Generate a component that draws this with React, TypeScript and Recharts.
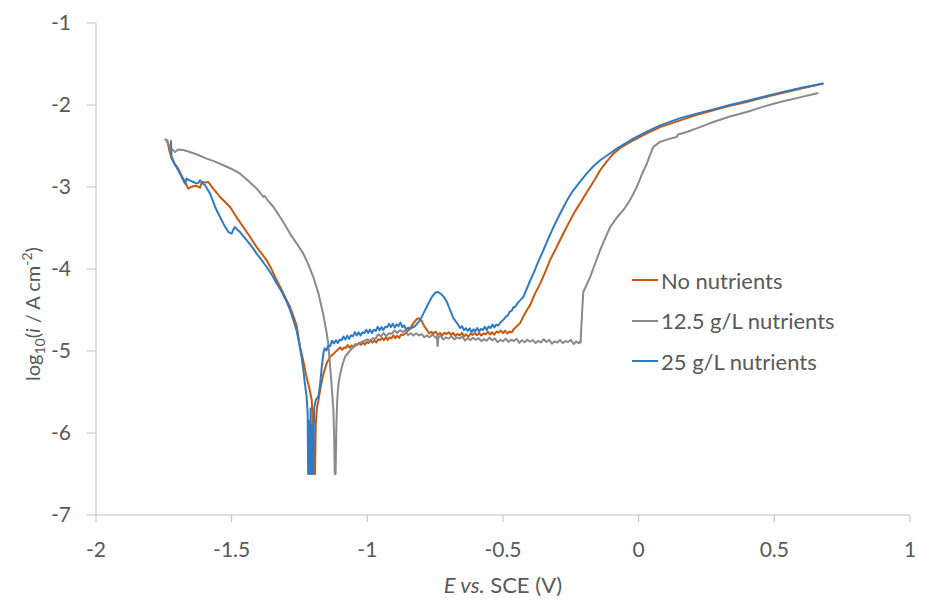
import React from 'react';
import { LineChart, Line, XAxis, YAxis } from 'recharts';

type P = [number, number];

const xTicks = [-2, -1.5, -1, -0.5, 0, 0.5, 1];
const yTicks = [-7, -6, -5, -4, -3, -2, -1];

const seriesNames = ['No nutrients', '12.5 g/L nutrients', '25 g/L nutrients'];
const seriesColors = ['#C9580F', '#8A8A8A', '#2E7BC4'];

const noNutrients: P[] = [
  [-1.738, -2.42], [-1.733, -2.5], [-1.73, -2.55], [-1.721, -2.654], [-1.709, -2.72], [-1.697, -2.776],
  [-1.685, -2.86], [-1.672, -2.939], [-1.66, -3.02], [-1.65, -3.0], [-1.641, -2.991], [-1.63, -2.985],
  [-1.617, -3.008], [-1.61, -2.939], [-1.598, -2.945], [-1.586, -2.939], [-1.577, -2.98], [-1.568, -3.02],
  [-1.555, -3.07], [-1.543, -3.122], [-1.525, -3.18], [-1.506, -3.244], [-1.482, -3.37], [-1.457, -3.488],
  [-1.432, -3.61], [-1.408, -3.732], [-1.39, -3.81], [-1.371, -3.894], [-1.352, -4.01], [-1.334, -4.138],
  [-1.315, -4.26], [-1.297, -4.382], [-1.285, -4.46], [-1.27, -4.6], [-1.26, -4.7], [-1.248, -4.95],
  [-1.236, -5.12], [-1.224, -5.32], [-1.212, -5.48], [-1.205, -5.6], [-1.2, -5.9], [-1.196, -6.5],
  [-1.193, -6.5], [-1.19, -5.9], [-1.186, -5.7], [-1.18, -5.6], [-1.171, -5.42], [-1.162, -5.28],
  [-1.15, -5.15], [-1.137, -5.07], [-1.12, -5.02],
  [-1.1, -4.955], [-1.093, -4.985], [-1.086, -4.955], [-1.079, -4.964], [-1.072, -4.927], [-1.065, -4.961],
  [-1.058, -4.931], [-1.051, -4.957], [-1.044, -4.916], [-1.037, -4.927], [-1.03, -4.899], [-1.023, -4.925],
  [-1.016, -4.892], [-1.009, -4.922], [-1.002, -4.892], [-0.995, -4.902], [-0.988, -4.865], [-0.981, -4.899],
  [-0.974, -4.87], [-0.967, -4.897], [-0.96, -4.856], [-0.953, -4.868], [-0.946, -4.84], [-0.939, -4.867],
  [-0.932, -4.835], [-0.925, -4.865], [-0.918, -4.835], [-0.911, -4.846], [-0.904, -4.809], [-0.897, -4.843],
  [-0.89, -4.814], [-0.883, -4.841], [-0.876, -4.798], [-0.868, -4.804], [-0.858, -4.78],
  [-0.843, -4.73], [-0.83, -4.66], [-0.818, -4.61], [-0.81, -4.6], [-0.8, -4.63], [-0.79, -4.7],
  [-0.78, -4.745], [-0.772, -4.786], [-0.764, -4.767], [-0.756, -4.788], [-0.748, -4.763], [-0.74, -4.805],
  [-0.732, -4.78], [-0.724, -4.813], [-0.716, -4.777], [-0.708, -4.794], [-0.7, -4.771], [-0.692, -4.804],
  [-0.684, -4.778], [-0.676, -4.815], [-0.668, -4.792], [-0.66, -4.809], [-0.652, -4.779], [-0.644, -4.82],
  [-0.636, -4.797], [-0.628, -4.827], [-0.62, -4.79], [-0.612, -4.804], [-0.604, -4.779], [-0.596, -4.809],
  [-0.588, -4.779], [-0.58, -4.812], [-0.572, -4.785], [-0.564, -4.797], [-0.556, -4.763], [-0.548, -4.799],
  [-0.54, -4.772], [-0.532, -4.801], [-0.524, -4.762], [-0.516, -4.776], [-0.508, -4.751], [-0.5, -4.782],
  [-0.492, -4.753], [-0.484, -4.787], [-0.476, -4.761], [-0.468, -4.775], [-0.462, -4.74],
  [-0.45, -4.7], [-0.437, -4.66], [-0.425, -4.58], [-0.412, -4.5], [-0.4, -4.44], [-0.382, -4.3],
  [-0.363, -4.178], [-0.345, -4.04], [-0.327, -3.894], [-0.308, -3.77], [-0.29, -3.65], [-0.272, -3.53],
  [-0.253, -3.41], [-0.235, -3.3], [-0.216, -3.2], [-0.198, -3.1], [-0.179, -3.0], [-0.16, -2.9],
  [-0.142, -2.796], [-0.118, -2.69], [-0.093, -2.593], [-0.062, -2.51], [-0.02, -2.43], [0.03, -2.345],
  [0.079, -2.27], [0.153, -2.187], [0.214, -2.12], [0.275, -2.065], [0.336, -2.01], [0.398, -1.963],
  [0.46, -1.91], [0.521, -1.861], [0.6, -1.8], [0.681, -1.739],
];

const nutrients125: P[] = [
  [-1.746, -2.41], [-1.738, -2.45], [-1.728, -2.5], [-1.72, -2.54], [-1.709, -2.573], [-1.7, -2.55],
  [-1.69, -2.544], [-1.672, -2.555], [-1.654, -2.573], [-1.623, -2.61], [-1.592, -2.654], [-1.561, -2.69],
  [-1.531, -2.735], [-1.5, -2.78], [-1.469, -2.837], [-1.44, -2.92], [-1.408, -3.02], [-1.395, -3.07],
  [-1.383, -3.122], [-1.378, -3.11], [-1.37, -3.15], [-1.346, -3.244], [-1.315, -3.4], [-1.285, -3.568],
  [-1.26, -3.69], [-1.236, -3.812], [-1.218, -3.94], [-1.199, -4.098], [-1.18, -4.3], [-1.162, -4.56],
  [-1.15, -4.78], [-1.144, -4.91], [-1.138, -5.15], [-1.132, -5.4], [-1.125, -5.72], [-1.122, -6.1],
  [-1.12, -6.5], [-1.117, -6.5], [-1.114, -5.9], [-1.111, -5.6], [-1.107, -5.42], [-1.1, -5.276],
  [-1.09, -5.15], [-1.082, -5.07], [-1.065, -5.0], [-1.051, -4.95], [-1.035, -4.92], [-1.02, -4.89],
  [-1.0, -4.858], [-0.99, -4.88], [-0.98, -4.843], [-0.97, -4.85], [-0.96, -4.797], [-0.95, -4.82],
  [-0.94, -4.782], [-0.93, -4.82], [-0.92, -4.783], [-0.91, -4.79], [-0.9, -4.749], [-0.89, -4.781],
  [-0.88, -4.746], [-0.87, -4.768], [-0.86, -4.749], [-0.85, -4.806], [-0.84, -4.784], [-0.83, -4.81],
  [-0.82, -4.784], [-0.81, -4.811], [-0.8, -4.794], [-0.79, -4.832], [-0.78, -4.81], [-0.77, -4.833],
  [-0.76, -4.796], [-0.75, -4.834], [-0.744, -4.82], [-0.741, -4.94], [-0.738, -4.83], [-0.73, -4.814],
  [-0.72, -4.861], [-0.71, -4.833], [-0.7, -4.849], [-0.69, -4.818], [-0.68, -4.859], [-0.67, -4.834],
  [-0.66, -4.848], [-0.65, -4.822], [-0.64, -4.873], [-0.63, -4.844], [-0.62, -4.867], [-0.61, -4.839],
  [-0.6, -4.864], [-0.59, -4.844], [-0.58, -4.88], [-0.57, -4.855], [-0.56, -4.875], [-0.55, -4.836],
  [-0.54, -4.871], [-0.53, -4.846], [-0.52, -4.893], [-0.51, -4.865], [-0.5, -4.88], [-0.49, -4.849],
  [-0.48, -4.889], [-0.47, -4.863], [-0.46, -4.878], [-0.45, -4.851], [-0.44, -4.901], [-0.43, -4.87],
  [-0.42, -4.893], [-0.41, -4.864], [-0.4, -4.887], [-0.39, -4.867], [-0.38, -4.902], [-0.37, -4.876],
  [-0.36, -4.896], [-0.35, -4.856], [-0.34, -4.89], [-0.33, -4.865], [-0.32, -4.911], [-0.31, -4.882],
  [-0.3, -4.897], [-0.29, -4.865], [-0.28, -4.904], [-0.27, -4.878], [-0.26, -4.891], [-0.25, -4.864],
  [-0.24, -4.914], [-0.23, -4.883], [-0.222, -4.906], [-0.216, -4.88], [-0.214, -4.9],
  [-0.212, -4.75], [-0.208, -4.5], [-0.204, -4.28], [-0.19, -4.18], [-0.179, -4.098], [-0.16, -3.93],
  [-0.142, -3.77], [-0.123, -3.62], [-0.105, -3.49], [-0.08, -3.37], [-0.056, -3.28], [-0.032, -3.16],
  [-0.007, -3.0], [0.01, -2.86], [0.03, -2.716], [0.045, -2.58], [0.054, -2.512], [0.079, -2.45],
  [0.116, -2.41], [0.14, -2.39], [0.145, -2.36], [0.177, -2.329], [0.226, -2.27], [0.275, -2.207],
  [0.336, -2.14], [0.398, -2.085], [0.46, -2.02], [0.521, -1.963], [0.59, -1.91], [0.662, -1.853],
];

const nutrients25: P[] = [
  [-1.724, -2.43], [-1.722, -2.62], [-1.712, -2.71], [-1.697, -2.796], [-1.684, -2.88], [-1.672, -2.959],
  [-1.666, -2.898], [-1.655, -2.92], [-1.641, -2.939], [-1.63, -2.955], [-1.623, -2.951], [-1.617, -2.918],
  [-1.608, -2.95], [-1.598, -2.979], [-1.58, -3.08], [-1.57, -3.16], [-1.561, -3.244], [-1.543, -3.366],
  [-1.53, -3.45], [-1.512, -3.549], [-1.5, -3.568], [-1.494, -3.52], [-1.488, -3.488], [-1.479, -3.52],
  [-1.469, -3.549], [-1.444, -3.65], [-1.425, -3.73], [-1.408, -3.812], [-1.39, -3.89], [-1.371, -3.976],
  [-1.352, -4.07], [-1.334, -4.178], [-1.315, -4.28], [-1.297, -4.4], [-1.285, -4.5], [-1.27, -4.65],
  [-1.26, -4.76], [-1.25, -4.93], [-1.242, -5.08], [-1.236, -5.22], [-1.23, -5.4], [-1.224, -5.55],
  [-1.22, -5.75], [-1.218, -6.5], [-1.215, -5.85], [-1.212, -6.5], [-1.209, -5.7], [-1.206, -6.5],
  [-1.203, -5.9], [-1.2, -6.5], [-1.196, -5.7], [-1.19, -5.6], [-1.18, -5.55], [-1.174, -5.4],
  [-1.168, -5.2], [-1.162, -5.03],
  [-1.158, -4.97], [-1.151, -4.993], [-1.144, -4.935], [-1.137, -4.94], [-1.13, -4.874], [-1.123, -4.908],
  [-1.116, -4.868], [-1.109, -4.903], [-1.102, -4.861], [-1.095, -4.868], [-1.088, -4.825], [-1.081, -4.859],
  [-1.074, -4.813], [-1.067, -4.852], [-1.06, -4.808], [-1.053, -4.821], [-1.046, -4.769], [-1.039, -4.81],
  [-1.032, -4.773], [-1.025, -4.811], [-1.018, -4.772], [-1.011, -4.782], [-1.004, -4.742], [-0.997, -4.78],
  [-0.99, -4.738], [-0.983, -4.781], [-0.976, -4.74], [-0.969, -4.755], [-0.962, -4.705], [-0.955, -4.748],
  [-0.948, -4.709], [-0.941, -4.744], [-0.934, -4.704], [-0.927, -4.711], [-0.92, -4.669], [-0.913, -4.708],
  [-0.906, -4.667], [-0.899, -4.713], [-0.892, -4.675], [-0.885, -4.695], [-0.878, -4.653], [-0.871, -4.71],
  [-0.864, -4.688], [-0.857, -4.74], [-0.85, -4.716], [-0.843, -4.73],
  [-0.825, -4.7], [-0.806, -4.626], [-0.79, -4.52], [-0.775, -4.42], [-0.76, -4.33], [-0.75, -4.29],
  [-0.741, -4.28], [-0.73, -4.3], [-0.718, -4.34], [-0.707, -4.4], [-0.695, -4.5], [-0.683, -4.6],
  [-0.665, -4.68], [-0.658, -4.72], [-0.651, -4.698], [-0.644, -4.745], [-0.637, -4.722], [-0.63, -4.755],
  [-0.623, -4.723], [-0.616, -4.773], [-0.609, -4.735], [-0.602, -4.759], [-0.595, -4.72], [-0.588, -4.759],
  [-0.581, -4.731], [-0.574, -4.745], [-0.567, -4.705], [-0.56, -4.743], [-0.553, -4.701], [-0.546, -4.72],
  [-0.539, -4.679], [-0.532, -4.712], [-0.525, -4.678], [-0.518, -4.689], [-0.511, -4.66],
  [-0.503, -4.63], [-0.496, -4.61], [-0.489, -4.58], [-0.482, -4.565], [-0.475, -4.52], [-0.468, -4.51],
  [-0.462, -4.47], [-0.455, -4.46], [-0.445, -4.41], [-0.425, -4.34], [-0.405, -4.18], [-0.388, -4.056],
  [-0.37, -3.91], [-0.351, -3.77], [-0.333, -3.63], [-0.314, -3.49], [-0.295, -3.36], [-0.277, -3.244],
  [-0.26, -3.14], [-0.241, -3.04], [-0.215, -2.93], [-0.192, -2.837], [-0.168, -2.75], [-0.142, -2.674],
  [-0.11, -2.6], [-0.081, -2.532], [-0.05, -2.47], [-0.02, -2.41], [0.03, -2.325], [0.079, -2.248],
  [0.153, -2.16], [0.214, -2.105], [0.275, -2.053], [0.336, -2.0], [0.398, -1.951], [0.46, -1.9],
  [0.521, -1.849], [0.6, -1.79], [0.681, -1.739],
];

const toRows = (a: P[]) => a.map(([x, y]) => ({ x, y }));
const seriesData = [toRows(noNutrients), toRows(nutrients125), toRows(nutrients25)];

const FONT = 'Lato, "Open Sans", sans-serif';
const TEXT = '#595959';
const AXIS = '#BFBFBF';

const XTitle = () => (
  <text x={495} y={585} textAnchor="middle" fill={TEXT} fontSize={22} fontFamily={FONT}>
    <tspan fontStyle="italic">E vs.</tspan>
    <tspan> SCE (V)</tspan>
  </text>
);

const YTitle = () => (
  <text transform="translate(32,306) rotate(-90)" textAnchor="middle" fill={TEXT} fontSize={20} fontFamily={FONT}>
    <tspan>log</tspan>
    <tspan fontSize={14} dy={5}>10</tspan>
    <tspan dy={-5}>(</tspan>
    <tspan fontStyle="italic">i</tspan>
    <tspan> / A cm</tspan>
    <tspan fontSize={14} dy={-8}>-2</tspan>
    <tspan dy={8}>)</tspan>
  </text>
);

export default function App() {
  return (
    <div style={{ position: 'relative', width: 915, height: 596, fontFamily: FONT }}>
      <LineChart width={915} height={596} margin={{ top: 15, right: 13, left: 0, bottom: 0 }}>
        <XAxis
          type="number"
          dataKey="x"
          domain={[-2, 1]}
          ticks={xTicks}
          interval={0}
          allowDataOverflow
          height={89}
          stroke={AXIS}
          tickSize={7}
          tickMargin={20}
          tick={{ fill: TEXT, fontSize: 21, fontFamily: FONT }}
          label={{ content: () => <XTitle /> }}
        />
        <YAxis
          type="number"
          dataKey="y"
          domain={[-7, -1]}
          ticks={yTicks}
          interval={0}
          allowDataOverflow
          width={88}
          stroke={AXIS}
          tickSize={9}
          tickMargin={16}
          tick={{ fill: TEXT, fontSize: 21, fontFamily: FONT }}
          label={{ content: () => <YTitle /> }}
        />
        {seriesData.map((d, i) => (
          <Line
            key={seriesNames[i]}
            data={d}
            dataKey="y"
            type="linear"
            stroke={seriesColors[i]}
            strokeWidth={2}
            strokeLinejoin="round"
            dot={false}
            activeDot={false}
            isAnimationActive={false}
          />
        ))}
      </LineChart>
      {seriesNames.map((name, i) => (
        <div
          key={name}
          style={{
            position: 'absolute',
            left: 624,
            top: 258 + i * 40.5,
            height: 28,
            display: 'flex',
            alignItems: 'center',
            color: TEXT,
            fontSize: 22,
            whiteSpace: 'nowrap',
          }}
        >
          <span style={{ display: 'inline-block', width: 26, height: 2, background: seriesColors[i], marginRight: 3 }} />
          <span>{name}</span>
        </div>
      ))}
    </div>
  );
}
